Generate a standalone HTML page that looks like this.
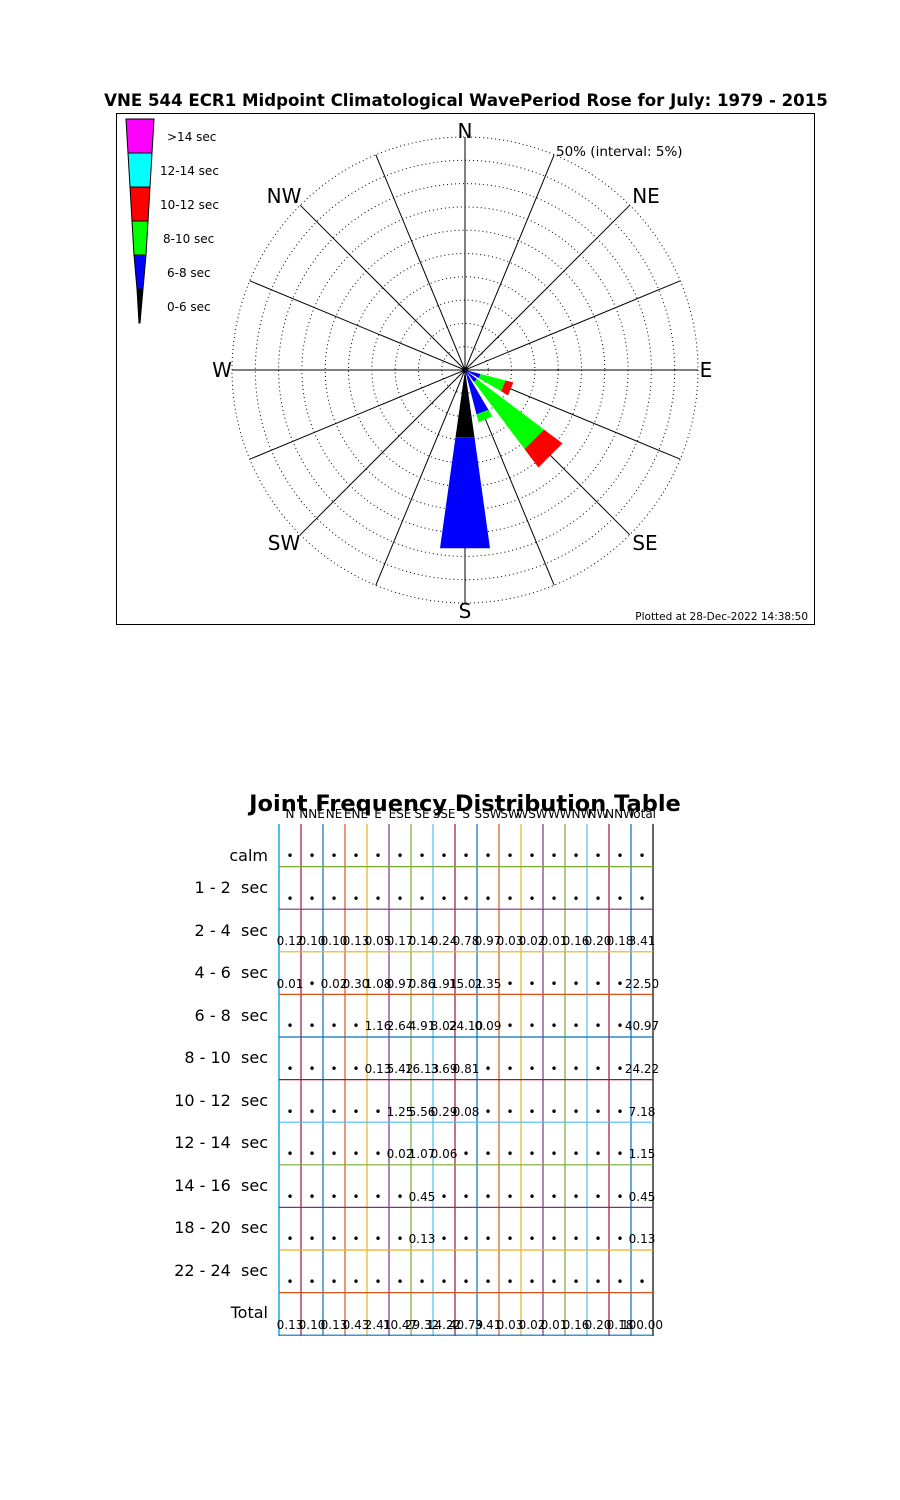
<!DOCTYPE html>
<html><head><meta charset="utf-8"><style>
html,body{margin:0;padding:0;background:#fff;}
body{width:900px;height:1500px;position:relative;overflow:hidden;font-family:"DejaVu Sans","Liberation Sans",sans-serif;}
.row{position:absolute;left:279px;height:16px;line-height:16px;display:flex;font-size:12px;color:#000;}
.row i{font-style:normal;width:22px;display:flex;justify-content:center;white-space:nowrap;}
.lab{position:absolute;right:632px;font-size:16px;white-space:pre;line-height:20px;}
</style></head><body>
<svg width="900" height="700" style="position:absolute;left:0;top:0" font-family="DejaVu Sans, Liberation Sans, sans-serif">
<text x="466" y="106" font-size="16.6" font-weight="bold" text-anchor="middle">VNE 544 ECR1 Midpoint Climatological WavePeriod Rose for July: 1979 - 2015</text>
<rect x="116.5" y="113.5" width="698" height="511" fill="none" stroke="#000" stroke-width="1"/>
<g fill="none" stroke="#000" stroke-width="1" stroke-dasharray="1 3">
<circle cx="465" cy="370" r="23.3"/><circle cx="465" cy="370" r="46.6"/><circle cx="465" cy="370" r="69.9"/><circle cx="465" cy="370" r="93.2"/><circle cx="465" cy="370" r="116.5"/><circle cx="465" cy="370" r="139.8"/><circle cx="465" cy="370" r="163.1"/><circle cx="465" cy="370" r="186.4"/><circle cx="465" cy="370" r="209.7"/><circle cx="465" cy="370" r="233"/>
</g>
<g stroke="#000" stroke-width="1">
<line x1="465" y1="137" x2="465" y2="603"/>
<line x1="232" y1="370" x2="698" y2="370"/>
<line x1="554.2" y1="154.7" x2="375.8" y2="585.3"/>
<line x1="629.8" y1="205.2" x2="300.2" y2="534.8"/>
<line x1="680.3" y1="280.8" x2="249.7" y2="459.2"/>
<line x1="680.3" y1="459.2" x2="249.7" y2="280.8"/>
<line x1="629.8" y1="534.8" x2="300.2" y2="205.2"/>
<line x1="554.2" y1="585.3" x2="375.8" y2="154.7"/>
</g>
<polygon points="465,370 474.5,437.3 455.5,437.3" fill="#000"/>
<polygon points="474.5,437.3 490,548.2 440,548.2 455.5,437.3" fill="#0000ff"/>
<polygon points="465,370 477,379 474,382" fill="#0000ff"/>
<polygon points="477,379 544.1,429.6 524.6,449.1 474,382" fill="#00ff00"/>
<polygon points="544.1,429.6 562.5,443.4 538.4,467.5 524.6,449.1" fill="#ff0000"/>
<polygon points="465,370 480.5,374 478.8,378.1" fill="#0000ff"/>
<polygon points="480.5,374 505.7,380.5 501.2,391.3 478.8,378.1" fill="#00ff00"/>
<polygon points="505.7,380.5 513.4,382.5 508.1,395.4 501.2,391.3" fill="#ff0000"/>
<polygon points="465,370 488.4,409.7 476.5,414.5" fill="#0000ff"/>
<polygon points="488.4,409.7 492.4,416.5 478.5,422.3 476.5,414.5" fill="#00ff00"/>
<g font-size="20" text-anchor="middle">
<text x="465" y="138">N</text><text x="465" y="618">S</text>
<text x="706" y="377">E</text><text x="222" y="377">W</text>
<text x="646" y="203">NE</text><text x="284" y="203">NW</text>
<text x="645" y="550">SE</text><text x="284" y="550">SW</text>
</g>
<text x="556" y="156" font-size="13.5">50% (interval: 5%)</text>
<text x="808" y="620" font-size="10.5" text-anchor="end">Plotted at 28-Dec-2022 14:38:50</text>
<g stroke="#000" stroke-width="1">
<polygon points="126,119 154,119 152,153 128,153" fill="#ff00ff"/>
<polygon points="128,153 152,153 150,187 130,187" fill="#00ffff"/>
<polygon points="130,187 150,187 148,221 132,221" fill="#ff0000"/>
<polygon points="132,221 148,221 146,255 134,255" fill="#00ff00"/>
<polygon points="134,255 146,255 143,289 137,289" fill="#0000ff"/>
<polygon points="137,289 143,289 140,323 139,323" fill="#000"/>
</g>
<g font-size="12">
<text x="167" y="141">&gt;14 sec</text><text x="160" y="175">12-14 sec</text>
<text x="160" y="209">10-12 sec</text><text x="163" y="243">8-10 sec</text>
<text x="167" y="277">6-8 sec</text><text x="167" y="311">0-6 sec</text>
</g>
</svg>

<div style="position:absolute;left:0;width:930px;top:789px;text-align:center;font-size:22.5px;font-weight:bold;line-height:30px">Joint Frequency Distribution Table</div>
<div class="row" style="top:806px;font-size:12px"><i>N</i><i>NNE</i><i>NE</i><i>ENE</i><i>E</i><i>ESE</i><i>SE</i><i>SSE</i><i>S</i><i>SSW</i><i>SW</i><i>WSW</i><i>W</i><i>WNW</i><i>NW</i><i>NNW</i><i>Total</i></div>

<svg width="900" height="600" style="position:absolute;left:0;top:800px">
<g stroke-width="1.2">
<line x1="279" y1="24" x2="279" y2="536" stroke="#4DBEEE" stroke-width="2"/>
<line x1="301" y1="24" x2="301" y2="536" stroke="#A2142F"/>
<line x1="323" y1="24" x2="323" y2="536" stroke="#0072BD"/>
<line x1="345" y1="24" x2="345" y2="536" stroke="#D95319"/>
<line x1="367" y1="24" x2="367" y2="536" stroke="#EDB120"/>
<line x1="389" y1="24" x2="389" y2="536" stroke="#7E2F8E"/>
<line x1="411" y1="24" x2="411" y2="536" stroke="#77AC30"/>
<line x1="433" y1="24" x2="433" y2="536" stroke="#4DBEEE"/>
<line x1="455" y1="24" x2="455" y2="536" stroke="#A2142F"/>
<line x1="477" y1="24" x2="477" y2="536" stroke="#0072BD"/>
<line x1="499" y1="24" x2="499" y2="536" stroke="#D95319"/>
<line x1="521" y1="24" x2="521" y2="536" stroke="#EDB120"/>
<line x1="543" y1="24" x2="543" y2="536" stroke="#7E2F8E"/>
<line x1="565" y1="24" x2="565" y2="536" stroke="#77AC30"/>
<line x1="587" y1="24" x2="587" y2="536" stroke="#4DBEEE"/>
<line x1="609" y1="24" x2="609" y2="536" stroke="#A2142F"/>
<line x1="631" y1="24" x2="631" y2="536" stroke="#0072BD"/>
<line x1="653" y1="24" x2="653" y2="536" stroke="#000"/>
<line x1="279" y1="66.6" x2="653" y2="66.6" stroke="#77AC30"/>
<line x1="279" y1="109.2" x2="653" y2="109.2" stroke="#7E2F8E"/>
<line x1="279" y1="151.8" x2="653" y2="151.8" stroke="#EDB120"/>
<line x1="279" y1="194.4" x2="653" y2="194.4" stroke="#D95319"/>
<line x1="279" y1="237" x2="653" y2="237" stroke="#0072BD"/>
<line x1="279" y1="279.6" x2="653" y2="279.6" stroke="#A2142F"/>
<line x1="279" y1="322.2" x2="653" y2="322.2" stroke="#4DBEEE"/>
<line x1="279" y1="364.8" x2="653" y2="364.8" stroke="#77AC30"/>
<line x1="279" y1="407.4" x2="653" y2="407.4" stroke="#7E2F8E"/>
<line x1="279" y1="450" x2="653" y2="450" stroke="#EDB120"/>
<line x1="279" y1="492.6" x2="653" y2="492.6" stroke="#D95319"/>
<line x1="279" y1="535.2" x2="653" y2="535.2" stroke="#0072BD"/>
</g>
</svg>

<div class="lab" style="top:846px">calm</div>
<div class="lab" style="top:878px">1 - 2  sec</div>
<div class="lab" style="top:921px">2 - 4  sec</div>
<div class="lab" style="top:963px">4 - 6  sec</div>
<div class="lab" style="top:1006px">6 - 8  sec</div>
<div class="lab" style="top:1048px">8 - 10  sec</div>
<div class="lab" style="top:1091px">10 - 12  sec</div>
<div class="lab" style="top:1133px">12 - 14  sec</div>
<div class="lab" style="top:1176px">14 - 16  sec</div>
<div class="lab" style="top:1218px">18 - 20  sec</div>
<div class="lab" style="top:1261px">22 - 24  sec</div>
<div class="lab" style="top:1303px">Total</div>

<div class="row" style="top:848px"><i>•</i><i>•</i><i>•</i><i>•</i><i>•</i><i>•</i><i>•</i><i>•</i><i>•</i><i>•</i><i>•</i><i>•</i><i>•</i><i>•</i><i>•</i><i>•</i><i>•</i></div>
<div class="row" style="top:890.6px"><i>•</i><i>•</i><i>•</i><i>•</i><i>•</i><i>•</i><i>•</i><i>•</i><i>•</i><i>•</i><i>•</i><i>•</i><i>•</i><i>•</i><i>•</i><i>•</i><i>•</i></div>
<div class="row" style="top:933.2px"><i>0.12</i><i>0.10</i><i>0.10</i><i>0.13</i><i>0.05</i><i>0.17</i><i>0.14</i><i>0.24</i><i>0.78</i><i>0.97</i><i>0.03</i><i>0.02</i><i>0.01</i><i>0.16</i><i>0.20</i><i>0.18</i><i>3.41</i></div>
<div class="row" style="top:975.8px"><i>0.01</i><i>•</i><i>0.02</i><i>0.30</i><i>1.08</i><i>0.97</i><i>0.86</i><i>1.91</i><i>15.01</i><i>2.35</i><i>•</i><i>•</i><i>•</i><i>•</i><i>•</i><i>•</i><i>22.50</i></div>
<div class="row" style="top:1018.4px"><i>•</i><i>•</i><i>•</i><i>•</i><i>1.16</i><i>2.64</i><i>4.91</i><i>8.02</i><i>24.10</i><i>0.09</i><i>•</i><i>•</i><i>•</i><i>•</i><i>•</i><i>•</i><i>40.97</i></div>
<div class="row" style="top:1061px"><i>•</i><i>•</i><i>•</i><i>•</i><i>0.13</i><i>5.42</i><i>16.13</i><i>3.69</i><i>0.81</i><i>•</i><i>•</i><i>•</i><i>•</i><i>•</i><i>•</i><i>•</i><i>24.22</i></div>
<div class="row" style="top:1103.6px"><i>•</i><i>•</i><i>•</i><i>•</i><i>•</i><i>1.25</i><i>5.56</i><i>0.29</i><i>0.08</i><i>•</i><i>•</i><i>•</i><i>•</i><i>•</i><i>•</i><i>•</i><i>7.18</i></div>
<div class="row" style="top:1146.2px"><i>•</i><i>•</i><i>•</i><i>•</i><i>•</i><i>0.02</i><i>1.07</i><i>0.06</i><i>•</i><i>•</i><i>•</i><i>•</i><i>•</i><i>•</i><i>•</i><i>•</i><i>1.15</i></div>
<div class="row" style="top:1188.8px"><i>•</i><i>•</i><i>•</i><i>•</i><i>•</i><i>•</i><i>0.45</i><i>•</i><i>•</i><i>•</i><i>•</i><i>•</i><i>•</i><i>•</i><i>•</i><i>•</i><i>0.45</i></div>
<div class="row" style="top:1231.4px"><i>•</i><i>•</i><i>•</i><i>•</i><i>•</i><i>•</i><i>0.13</i><i>•</i><i>•</i><i>•</i><i>•</i><i>•</i><i>•</i><i>•</i><i>•</i><i>•</i><i>0.13</i></div>
<div class="row" style="top:1274px"><i>•</i><i>•</i><i>•</i><i>•</i><i>•</i><i>•</i><i>•</i><i>•</i><i>•</i><i>•</i><i>•</i><i>•</i><i>•</i><i>•</i><i>•</i><i>•</i><i>•</i></div>
<div class="row" style="top:1316.6px"><i>0.13</i><i>0.10</i><i>0.13</i><i>0.43</i><i>2.41</i><i>10.47</i><i>29.32</i><i>14.22</i><i>40.79</i><i>3.41</i><i>0.03</i><i>0.02</i><i>0.01</i><i>0.16</i><i>0.20</i><i>0.18</i><i>100.00</i></div>
</body></html>
